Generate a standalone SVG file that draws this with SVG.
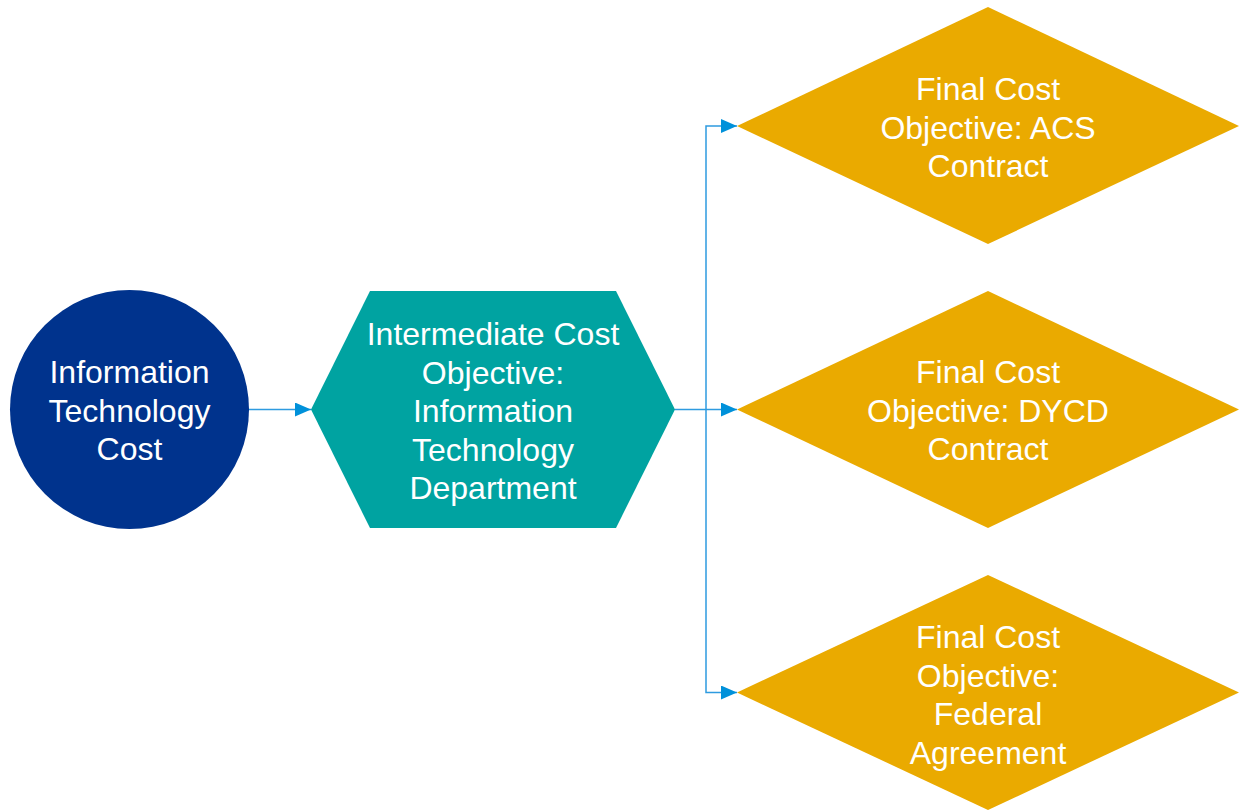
<svg xmlns="http://www.w3.org/2000/svg" width="1241" height="812" viewBox="0 0 1241 812">
<style>
.t{font-family:"Liberation Sans",Arial,sans-serif;font-size:32px;fill:#fff;text-anchor:middle}
.c{fill:none;stroke:#2E9BE0;stroke-width:1.5}
</style>
<defs>
<marker id="ah" markerWidth="16" markerHeight="14" refX="16" refY="7" orient="auto" markerUnits="userSpaceOnUse">
<path d="M0,0 L16,7 L0,14 Z" fill="#0091DA"/>
</marker>
</defs>
<rect width="1241" height="812" fill="#fff"/>
<g id="connectors">
<path class="c" d="M249,409.5 H311" marker-end="url(#ah)"/>
<path class="c" d="M675,409.5 H737" marker-end="url(#ah)"/>
<path class="c" d="M706,409.5 V126 H737" marker-end="url(#ah)"/>
<path class="c" d="M706,409.5 V692.5 H737" marker-end="url(#ah)"/>
</g>
<g id="it-cost">
<circle cx="129.5" cy="409.5" r="119.5" fill="#00338D"/>
<text class="t"><tspan x="129.5" y="383">Information</tspan><tspan x="129.5" y="421.5">Technology</tspan><tspan x="129.5" y="460">Cost</tspan></text>
</g>
<g id="intermediate">
<polygon points="311,409.5 370,291 616,291 675,409.5 616,528 370,528" fill="#00A3A1"/>
<text class="t"><tspan x="493" y="345">Intermediate Cost</tspan><tspan x="493" y="383.5">Objective:</tspan><tspan x="493" y="422">Information</tspan><tspan x="493" y="460.5">Technology</tspan><tspan x="493" y="499">Department</tspan></text>
</g>
<g id="final-acs">
<polygon points="737,126 988,7 1239,126 988,244" fill="#EAAA00"/>
<text class="t"><tspan x="988" y="100">Final Cost</tspan><tspan x="988" y="138.5">Objective: ACS</tspan><tspan x="988" y="177">Contract</tspan></text>
</g>
<g id="final-dycd">
<polygon points="737,409.5 988,291 1239,409.5 988,528" fill="#EAAA00"/>
<text class="t"><tspan x="988" y="383">Final Cost</tspan><tspan x="988" y="421.5">Objective: DYCD</tspan><tspan x="988" y="460">Contract</tspan></text>
</g>
<g id="final-federal">
<polygon points="737,692.5 988,575 1239,692.5 988,810" fill="#EAAA00"/>
<text class="t"><tspan x="988" y="648">Final Cost</tspan><tspan x="988" y="686.5">Objective:</tspan><tspan x="988" y="725">Federal</tspan><tspan x="988" y="763.5">Agreement</tspan></text>
</g>
</svg>
